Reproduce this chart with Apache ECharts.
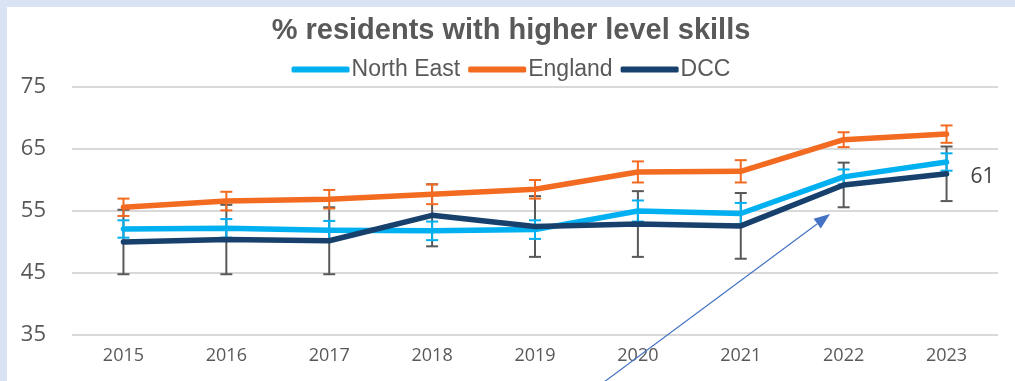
<!DOCTYPE html>
<html>
<head>
<meta charset="utf-8">
<script src="https://cdn.jsdelivr.net/npm/echarts@6/dist/echarts.min.js"></script>
<style>
  html, body { margin: 0; padding: 0; background: #dae3f3; }
  #chart { position: absolute; left: 7px; top: 7px; width: 1008px; height: 374px; background: #fff; }
</style>
</head>
<body>
<div id="chart"></div>
<script>
// data
var years = ["2015", "2016", "2017", "2018", "2019", "2020", "2021", "2022", "2023"];
var northEast = [52.1, 52.2, 51.9, 51.8, 52.0, 55.0, 54.6, 60.5, 62.9];
var england = [55.6, 56.6, 56.9, 57.7, 58.5, 61.3, 61.4, 66.5, 67.4];
var dcc = [50.0, 50.4, 50.2, 54.3, 52.5, 52.9, 52.6, 59.2, 61.0];
// error bar half-widths
var northEastErr = [1.4, 1.5, 1.5, 1.5, 1.5, 1.7, 1.7, 1.2, 1.4];
var englandErr = [1.4, 1.5, 1.5, 1.6, 1.5, 1.7, 1.8, 1.2, 1.4];
var dccErr = [5.2, 5.6, 5.4, 5.0, 4.9, 5.3, 5.3, 3.6, 4.4];

var colNE = "#00b0f0", colEng = "#f26b21", colDcc = "#17406d";

var myChart = echarts.init(document.getElementById("chart"));

function errData(vals, errs) {
  return vals.map(function (v, i) { return [i, v - errs[i], v + errs[i]]; });
}

function errSeries(name, vals, errs, color) {
  return {
    type: "custom",
    name: name + " err",
    z: 1,
    silent: true,
    data: errData(vals, errs),
    renderItem: function (params, api) {
      var lo = api.coord([api.value(0), api.value(1)]);
      var hi = api.coord([api.value(0), api.value(2)]);
      var w = 6;
      var st = { stroke: color, lineWidth: 2 };
      return {
        type: "group",
        children: [
          { type: "line", shape: { x1: lo[0], y1: lo[1], x2: hi[0], y2: hi[1] }, style: st },
          { type: "line", shape: { x1: lo[0] - w, y1: lo[1], x2: lo[0] + w, y2: lo[1] }, style: st },
          { type: "line", shape: { x1: hi[0] - w, y1: hi[1], x2: hi[0] + w, y2: hi[1] }, style: st }
        ]
      };
    }
  };
}

function lineSeries(name, vals, color) {
  return {
    type: "line",
    name: name,
    data: vals,
    z: 3,
    showSymbol: false,
    symbol: "circle",
    lineStyle: { width: 5.5, color: color, cap: "round", join: "round" },
    itemStyle: { color: color }
  };
}

var dccLine = lineSeries("DCC", dcc, colDcc);
dccLine.endLabel = {
  show: true,
  distance: 24,
  offset: [0, 3],
  formatter: function (p) { return Math.round(p.value); },
  fontFamily: "Open Sans", fontSize: 21, color: "#404040"
};

var option = {
  animation: false,
  title: {
    text: "% residents with higher level skills",
    left: "center",
    top: 4,
    textStyle: { fontFamily: "Liberation Sans", fontWeight: "bold", fontSize: 29, color: "#595959" }
  },
  legend: {
    top: 46,
    left: "center",
    itemWidth: 58,
    itemHeight: 6,
    itemGap: 8,
    icon: "roundRect",
    data: ["North East", "England", "DCC"],
    textStyle: { fontFamily: "Liberation Sans", fontSize: 23, color: "#595959", padding: [0, 0, 0, -3] }
  },
  grid: { left: 65, right: 17, top: 80, bottom: 46 },
  xAxis: {
    type: "category",
    data: years,
    boundaryGap: true,
    axisLine: { show: false },
    axisTick: { show: false },
    axisLabel: { fontFamily: "Open Sans", fontSize: 18, color: "#595959", margin: 12 }
  },
  yAxis: {
    type: "value",
    min: 35,
    max: 75,
    interval: 10,
    axisLine: { show: false },
    axisTick: { show: false },
    splitLine: { lineStyle: { color: "#d9d9d9", width: 2 } },
    axisLabel: { fontFamily: "Open Sans", fontSize: 22, color: "#595959", margin: 26 }
  },
  series: [
    errSeries("DCC", dcc, dccErr, "#595959"),
    errSeries("North East", northEast, northEastErr, colNE),
    errSeries("England", england, englandErr, colEng),
    lineSeries("North East", northEast, colNE),
    lineSeries("England", england, colEng),
    dccLine
  ],
  graphic: [
    { type: "line", shape: { x1: 593, y1: 378, x2: 810, y2: 217 }, style: { stroke: "#4472c4", lineWidth: 1.2 }, z: 10 },
    { type: "polygon", shape: { points: [[823, 207], [813.8, 221.4], [806.6, 211.8]] }, style: { fill: "#4472c4" }, z: 10 }
  ]
};

myChart.setOption(option);
</script>
</body>
</html>
